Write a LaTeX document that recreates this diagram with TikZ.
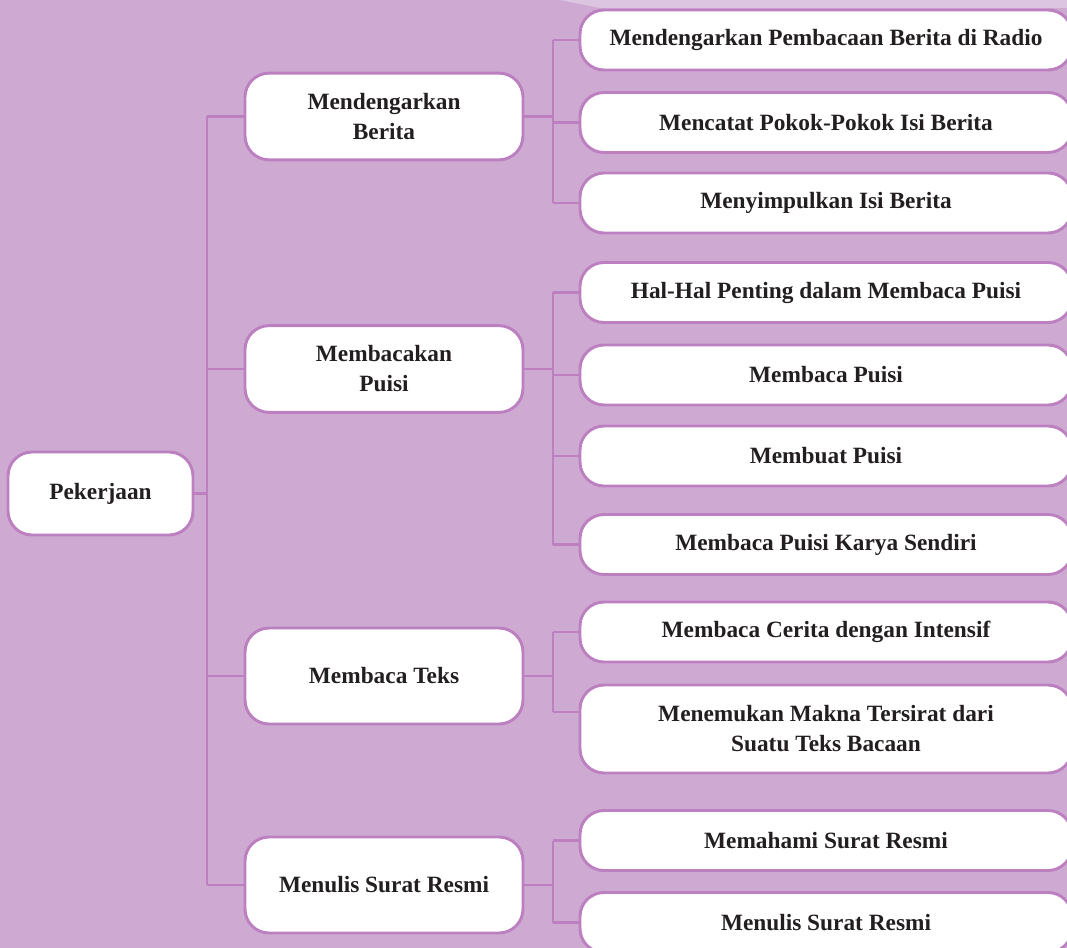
\documentclass[tikz,border=0pt]{standalone}
\usepackage{fontspec}
\setmainfont{Liberation Serif}
\usetikzlibrary{calc}
\definecolor{bgpurple}{HTML}{CEAAD3}
\definecolor{bglight}{HTML}{DCC5E0}
\definecolor{linepurple}{HTML}{BC80C1}
\definecolor{txt}{HTML}{231F20}
\tikzset{
  box/.style={draw=linepurple, line width=2.2pt, fill=white, rounded corners=18pt,
    text=txt, font=\fontsize{17.5}{22.5}\selectfont\bfseries, align=center, inner sep=0pt},
  rootbox/.style={box, minimum width=138.75pt, minimum height=62.25pt},
  midbox/.style={box, minimum width=208.5pt, minimum height=65pt},
  leafbox/.style={box, minimum width=369pt, minimum height=45pt},
  conn/.style={draw=linepurple, line width=2.2pt}
}
\begin{document}
\begin{tikzpicture}[x=0.75pt,y=-0.75pt]
\useasboundingbox (0,0) rectangle (1067,948);
\clip (0,0) rectangle (1067,948);
\fill[bgpurple] (0,0) rectangle (1067,948);
\fill[bglight] (560,0) -- (1067,0) -- (1067,8) -- (600,8) -- cycle;
% root
\node[rootbox] (P) at (100.5,493.5) {Pekerjaan};
% level 2
\node[midbox] (A) at (384,116.5) {Mendengarkan\\Berita};
\node[midbox] (B) at (384,369) {Membacakan\\Puisi};
\node[midbox, minimum height=72pt] (C) at (384,676) {Membaca Teks};
\node[midbox, minimum height=72pt] (D) at (384,885) {Menulis Surat Resmi};
% level 3
\node[leafbox] (n1) at (826,40) {Mendengarkan Pembacaan Berita di Radio};
\node[leafbox] (n2) at (826,122.5) {Mencatat Pokok-Pokok Isi Berita};
\node[leafbox] (n3) at (826,203) {Menyimpulkan Isi Berita};
\node[leafbox] (n4) at (826,292.5) {Hal-Hal Penting dalam Membaca Puisi};
\node[leafbox] (n5) at (826,375) {Membaca Puisi};
\node[leafbox] (n6) at (826,456) {Membuat Puisi};
\node[leafbox] (n7) at (826,544.5) {Membaca Puisi Karya Sendiri};
\node[leafbox] (n8) at (826,632) {Membaca Cerita dengan Intensif};
\node[leafbox, minimum height=66pt] (n9) at (826,729) {Menemukan Makna Tersirat dari\\Suatu Teks Bacaan};
\node[leafbox] (n10) at (826,840.5) {Memahami Surat Resmi};
\node[leafbox] (n11) at (826,922.5) {Menulis Surat Resmi};
% bus coordinates
\coordinate (tr) at (207,493.5);
\coordinate (bA) at (553,116.5);
\coordinate (bB) at (553,369);
\coordinate (bC) at (553,676);
\coordinate (bD) at (553,885);
\coordinate (y9) at (0,712);
% trunk
\draw[conn] (P.east) -- (tr);
\draw[conn] (tr |- A.west) -- (tr |- D.west);
\foreach \m in {A,B,C,D}{\draw[conn] (tr |- \m.west) -- (\m.west);}
% group A
\draw[conn] (A.east) -- (bA);
\draw[conn] (bA |- n1.west) -- (bA |- n3.west);
\foreach \m in {n1,n2,n3}{\draw[conn] (bA |- \m.west) -- (\m.west);}
% group B
\draw[conn] (B.east) -- (bB);
\draw[conn] (bB |- n4.west) -- (bB |- n7.west);
\foreach \m in {n4,n5,n6,n7}{\draw[conn] (bB |- \m.west) -- (\m.west);}
% group C
\draw[conn] (C.east) -- (bC);
\draw[conn] (bC |- n8.west) -- (bC |- y9);
\draw[conn] (bC |- n8.west) -- (n8.west);
\draw[conn] (bC |- y9) -- (n9.west |- y9);
% group D
\draw[conn] (D.east) -- (bD);
\draw[conn] (bD |- n10.west) -- (bD |- n11.west);
\foreach \m in {n10,n11}{\draw[conn] (bD |- \m.west) -- (\m.west);}
\end{tikzpicture}
\end{document}
